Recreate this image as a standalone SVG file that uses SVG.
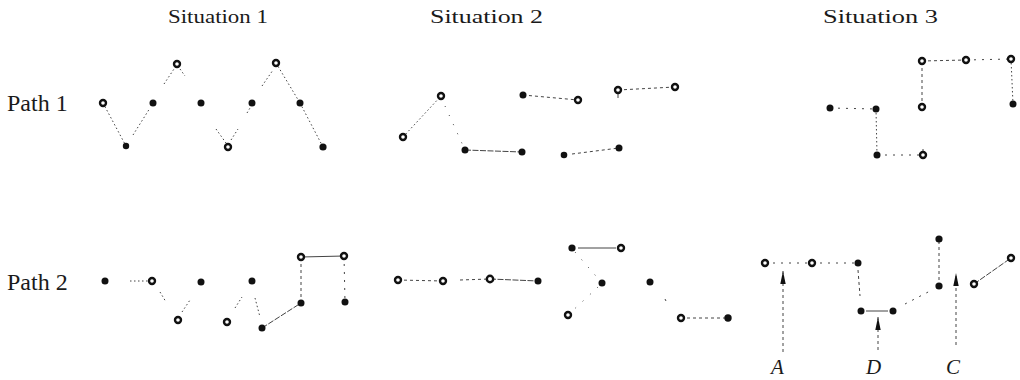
<svg xmlns="http://www.w3.org/2000/svg" width="1020" height="380" viewBox="0 0 1020 380">
<style>
.t{font-family:"Liberation Serif","Times New Roman",serif;fill:#1a1a1a}
.h{font-size:18px}
.p{font-size:24px}
.l{font-size:21px;font-style:italic}
.d{fill:#111}
.o{fill:#fff;stroke:#111;stroke-width:2.4}
#connectors line{stroke:#444;stroke-width:1;fill:none}
.s1{stroke-dasharray:1.5 2.5}
.s2{stroke-dasharray:3 3}
.s3{stroke-dasharray:2 6}
.s4{stroke-dasharray:6 1.5}
.s5{stroke-dasharray:1 9}
</style>
<defs>
<marker id="arr" markerUnits="userSpaceOnUse" markerWidth="14" markerHeight="7" refX="13" refY="3.5" orient="auto">
<path d="M0,0.8 L13,3.5 L0,6.2 z" fill="#111"/>
</marker>
</defs>
<rect width="1020" height="380" fill="#fff"/>
<g id="titles">
<text class="t h" x="168" y="23" textLength="100" lengthAdjust="spacingAndGlyphs">Situation  1</text>
<text class="t h" x="430" y="23" textLength="113" lengthAdjust="spacingAndGlyphs">Situation  2</text>
<text class="t h" x="823" y="23" textLength="115" lengthAdjust="spacingAndGlyphs">Situation  3</text>
<text class="t p" x="7" y="111">Path 1</text>
<text class="t p" x="7" y="290">Path 2</text>
</g>
<g id="connectors">
<line class="s1" x1="103" y1="103" x2="126" y2="146"/>
<line class="s1" x1="133" y1="135" x2="150" y2="108"/>
<line class="s1" x1="164" y1="84" x2="174" y2="69"/>
<line class="s1" x1="180" y1="69" x2="185" y2="76"/>
<line class="s1" x1="216" y1="129" x2="226" y2="143"/>
<line class="s1" x1="231" y1="140" x2="238" y2="129"/>
<line class="s1" x1="247" y1="113" x2="250" y2="108"/>
<line class="s1" x1="262" y1="86" x2="273" y2="70"/>
<line class="s1" x1="276" y1="63" x2="300" y2="103"/>
<line class="s1" x1="300" y1="103" x2="323" y2="147"/>
<line class="s1" x1="403" y1="137" x2="441" y2="96"/>
<line class="s5" x1="445" y1="106" x2="465" y2="150"/>
<line class="s4" x1="465" y1="150" x2="522" y2="152"/>
<line class="s2" x1="523" y1="95" x2="578" y2="100"/>
<line class="s2" x1="572" y1="154" x2="619" y2="148"/>
<line class="s2" x1="618" y1="90" x2="675" y2="87"/>
<line x1="618" y1="93" x2="618" y2="98"/>
<line class="s3" x1="830" y1="108" x2="876" y2="109"/>
<line class="s1" x1="876" y1="109" x2="877" y2="155"/>
<line class="s3" x1="877" y1="155" x2="923" y2="155"/>
<line x1="923" y1="149" x2="923" y2="153"/>
<line class="s2" x1="922" y1="107" x2="922" y2="61"/>
<line class="s2" x1="922" y1="61" x2="966" y2="60"/>
<line class="s3" x1="966" y1="60" x2="1011" y2="59"/>
<line class="s1" x1="1011" y1="59" x2="1013" y2="104"/>
<line class="s1" x1="130" y1="281" x2="150" y2="281"/>
<line class="s1" x1="160" y1="292" x2="166" y2="302"/>
<line class="s1" x1="182" y1="312" x2="190" y2="300"/>
<line class="s1" x1="235" y1="308" x2="242" y2="297"/>
<line class="s1" x1="255" y1="298" x2="260" y2="317"/>
<line class="s4" x1="262" y1="328" x2="301" y2="303"/>
<line class="s2" x1="301" y1="303" x2="301" y2="257"/>
<line x1="301" y1="257" x2="344" y2="256"/>
<line class="s3" x1="344" y1="256" x2="345" y2="302"/>
<line class="s2" x1="398" y1="280" x2="443" y2="281"/>
<line class="s2" x1="460" y1="280" x2="490" y2="279"/>
<line class="s4" x1="490" y1="279" x2="538" y2="281"/>
<line x1="578" y1="248" x2="616" y2="248"/>
<line class="s5" x1="575" y1="252" x2="602" y2="283"/>
<line class="s5" x1="598" y1="287" x2="568" y2="315"/>
<line x1="665" y1="299" x2="666" y2="301"/>
<line class="s2" x1="681" y1="318" x2="728" y2="318"/>
<line class="s3" x1="765" y1="263" x2="812" y2="263"/>
<line class="s3" x1="812" y1="263" x2="858" y2="263"/>
<line class="s2" x1="858" y1="270" x2="860" y2="296"/>
<line x1="866" y1="311" x2="888" y2="311"/>
<line class="s3" x1="905" y1="304" x2="932" y2="290"/>
<line class="s2" x1="939" y1="286" x2="939" y2="239"/>
<line class="s4" x1="974" y1="284" x2="1011" y2="258"/>
<line class="s2" x1="783" y1="352" x2="783" y2="271" marker-end="url(#arr)"/>
<line class="s2" x1="878" y1="350" x2="878" y2="317" marker-end="url(#arr)"/>
<line class="s2" x1="956" y1="345" x2="956" y2="273" marker-end="url(#arr)"/>
</g>
<g id="n1a1"><circle class="o" cx="103" cy="103" r="3"/></g>
<g id="n1a2"><circle class="d" cx="126" cy="146" r="3.2"/></g>
<g id="n1a3"><circle class="d" cx="153" cy="103" r="3.5"/></g>
<g id="n1a4"><circle class="o" cx="177" cy="64" r="3"/></g>
<g id="n1a5"><circle class="d" cx="201" cy="103" r="3.5"/></g>
<g id="n1a6"><circle class="o" cx="228" cy="147" r="3"/></g>
<g id="n1a7"><circle class="d" cx="252" cy="103" r="3.5"/></g>
<g id="n1a8"><circle class="o" cx="276" cy="63" r="3"/></g>
<g id="n1a9"><circle class="d" cx="300" cy="103" r="3.5"/></g>
<g id="n1a10"><circle class="d" cx="323" cy="147" r="3.6"/></g>
<g id="n1b1"><circle class="o" cx="403" cy="137" r="3"/></g>
<g id="n1b2"><circle class="o" cx="441" cy="96" r="3"/></g>
<g id="n1b3"><circle class="d" cx="465" cy="150" r="3.5"/></g>
<g id="n1b4"><circle class="d" cx="522" cy="152" r="3.5"/></g>
<g id="n1b5"><circle class="d" cx="523" cy="95" r="3.5"/></g>
<g id="n1b6"><circle class="o" cx="578" cy="100" r="3"/></g>
<g id="n1b7"><circle class="d" cx="564" cy="155" r="3.3"/></g>
<g id="n1b8"><circle class="d" cx="619" cy="148" r="3.5"/></g>
<g id="n1b9"><circle class="o" cx="618" cy="90" r="3"/></g>
<g id="n1b10"><circle class="o" cx="675" cy="87" r="3"/></g>
<g id="n1c1"><circle class="d" cx="830" cy="108" r="3.5"/></g>
<g id="n1c2"><circle class="d" cx="876" cy="109" r="3.5"/></g>
<g id="n1c3"><circle class="d" cx="877" cy="155" r="3.5"/></g>
<g id="n1c4"><circle class="o" cx="923" cy="155" r="3"/></g>
<g id="n1c5"><circle class="o" cx="922" cy="107" r="3"/></g>
<g id="n1c6"><circle class="o" cx="922" cy="61" r="3"/></g>
<g id="n1c7"><circle class="o" cx="966" cy="60" r="3"/></g>
<g id="n1c8"><circle class="o" cx="1011" cy="59" r="3"/></g>
<g id="n1c9"><circle class="d" cx="1013" cy="104" r="3.5"/></g>
<g id="n2a1"><circle class="d" cx="105" cy="281" r="3.5"/></g>
<g id="n2a2"><circle class="o" cx="152" cy="281" r="3"/></g>
<g id="n2a3"><circle class="o" cx="178" cy="320" r="3"/></g>
<g id="n2a4"><circle class="d" cx="201" cy="282" r="3.5"/></g>
<g id="n2a5"><circle class="o" cx="227" cy="322" r="3"/></g>
<g id="n2a6"><circle class="d" cx="252" cy="281" r="3.5"/></g>
<g id="n2a7"><circle class="d" cx="262" cy="328" r="3.5"/></g>
<g id="n2a8"><circle class="d" cx="301" cy="303" r="3.5"/></g>
<g id="n2a9"><circle class="o" cx="301" cy="257" r="3"/></g>
<g id="n2a10"><circle class="o" cx="344" cy="256" r="3"/></g>
<g id="n2a11"><circle class="d" cx="345" cy="302" r="3.5"/></g>
<g id="n2b1"><circle class="o" cx="398" cy="280" r="3"/></g>
<g id="n2b2"><circle class="o" cx="443" cy="281" r="3"/></g>
<g id="n2b3"><circle class="o" cx="490" cy="279" r="3.2"/></g>
<g id="n2b4"><circle class="d" cx="538" cy="281" r="3.5"/></g>
<g id="n2b5"><circle class="d" cx="572" cy="248" r="3.6"/></g>
<g id="n2b6"><circle class="o" cx="621" cy="248" r="3"/></g>
<g id="n2b7"><circle class="d" cx="602" cy="283" r="3.5"/></g>
<g id="n2b8"><circle class="o" cx="568" cy="315" r="3"/></g>
<g id="n2b9"><circle class="d" cx="650" cy="282" r="3.5"/></g>
<g id="n2b10"><circle class="o" cx="681" cy="318" r="3"/></g>
<g id="n2b11"><circle class="d" cx="728" cy="318" r="3.7"/></g>
<g id="n2c1"><circle class="o" cx="765" cy="263" r="3"/></g>
<g id="n2c2"><circle class="o" cx="812" cy="263" r="3"/></g>
<g id="n2c3"><circle class="d" cx="858" cy="263" r="3.5"/></g>
<g id="n2c4"><circle class="d" cx="861" cy="311" r="3.5"/></g>
<g id="n2c5"><circle class="d" cx="893" cy="311" r="3.5"/></g>
<g id="n2c6"><circle class="d" cx="939" cy="286" r="3.6"/></g>
<g id="n2c7"><circle class="d" cx="939" cy="239" r="3.6"/></g>
<g id="n2c8"><circle class="o" cx="974" cy="284" r="3"/></g>
<g id="n2c9"><circle class="o" cx="1011" cy="258" r="3"/></g>
<g id="labels">
<text class="t l" x="771" y="374">A</text>
<text class="t l" x="866" y="374">D</text>
<text class="t l" x="946" y="374">C</text>
</g>
</svg>
